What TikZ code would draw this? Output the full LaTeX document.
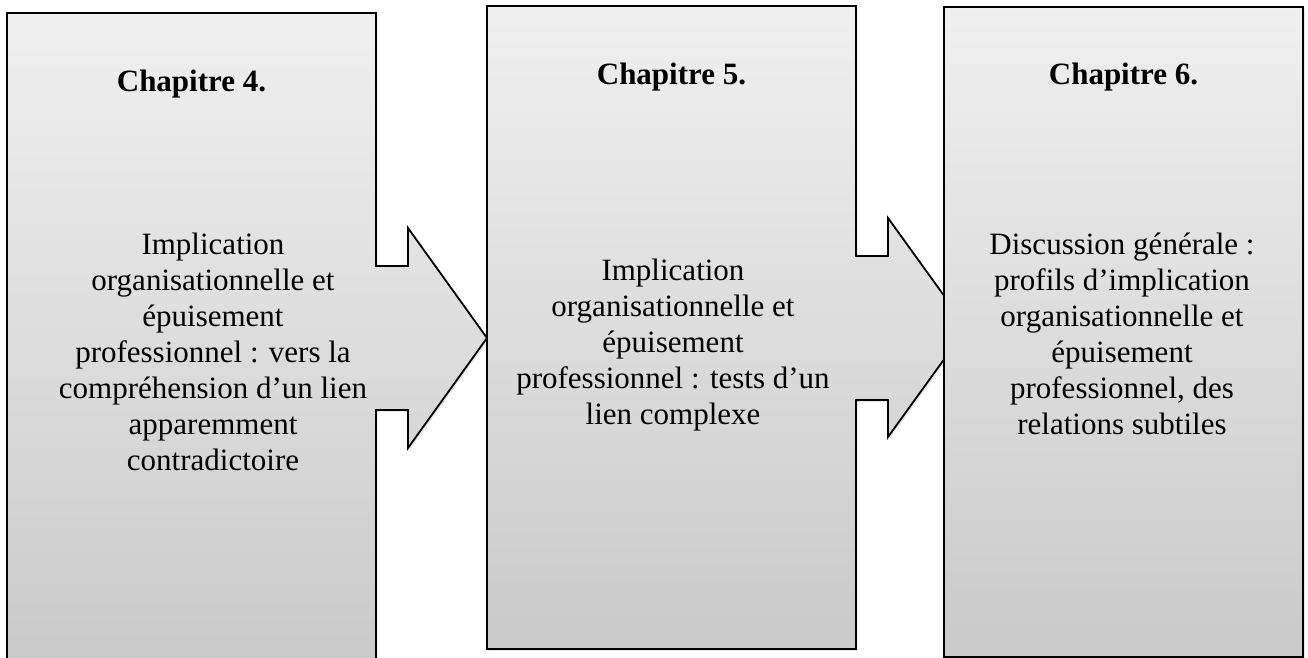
\documentclass[tikz,border=0pt]{standalone}
\usepackage{fontspec}
\setmainfont{Liberation Serif}
\usetikzlibrary{calc,shadows}

\tikzset{
  chapbox/.style={draw=black, line width=1.8pt, line join=miter,
    top color=black!6, bottom color=black!21,
    drop shadow={shadow xshift=1.5pt, shadow yshift=-2pt, opacity=.2}},
  chaptitle/.style={font=\fontsize{31}{36}\selectfont\bfseries},
  chaptext/.style={align=center, font=\fontsize{31}{36}\selectfont},
}

\begin{document}
\begin{tikzpicture}[x=1pt,y=-1pt]
\useasboundingbox (0,0) rectangle (1308,658);

% chapitre 4, with its arrow to the right
\draw [chapbox] (7,13) -- (376,13) -- (376,266) -- (408,266) -- (408,228)
  -- (487,338) -- (408,448) -- (408,410) -- (376,410) -- (376,672)
  -- (7,672) -- cycle;

% chapitre 5
\draw [chapbox] (487,6) -- (856,6) -- (856,256) -- (888,256) -- (888,218)
  -- (967,327.5) -- (888,437) -- (888,400) -- (856,400) -- (856,649)
  -- (487,649) -- cycle;

% chapitre 6
\draw [chapbox] (944,7) rectangle (1303,657);

\node [chaptitle] (titre4) at (191.5,84) {Chapitre 4.};
\node [chaptext] (texte4) at (213,352) {Implication\\organisationnelle et\\épuisement\\professionnel : vers la\\compréhension d’un lien\\apparemment\\contradictoire};

\node [chaptitle] (titre5) at (671.5,77) {Chapitre 5.};
\node [chaptext] (texte5) at (673,345) {Implication\\organisationnelle et\\épuisement\\professionnel : tests d’un\\lien complexe};

\node [chaptitle] (titre6) at (1123.5,77) {Chapitre 6.};
\node [chaptext] (texte6) at (1122,334) {Discussion générale :\\profils d’implication\\organisationnelle et\\épuisement\\professionnel, des\\relations subtiles};
\end{tikzpicture}
\end{document}
